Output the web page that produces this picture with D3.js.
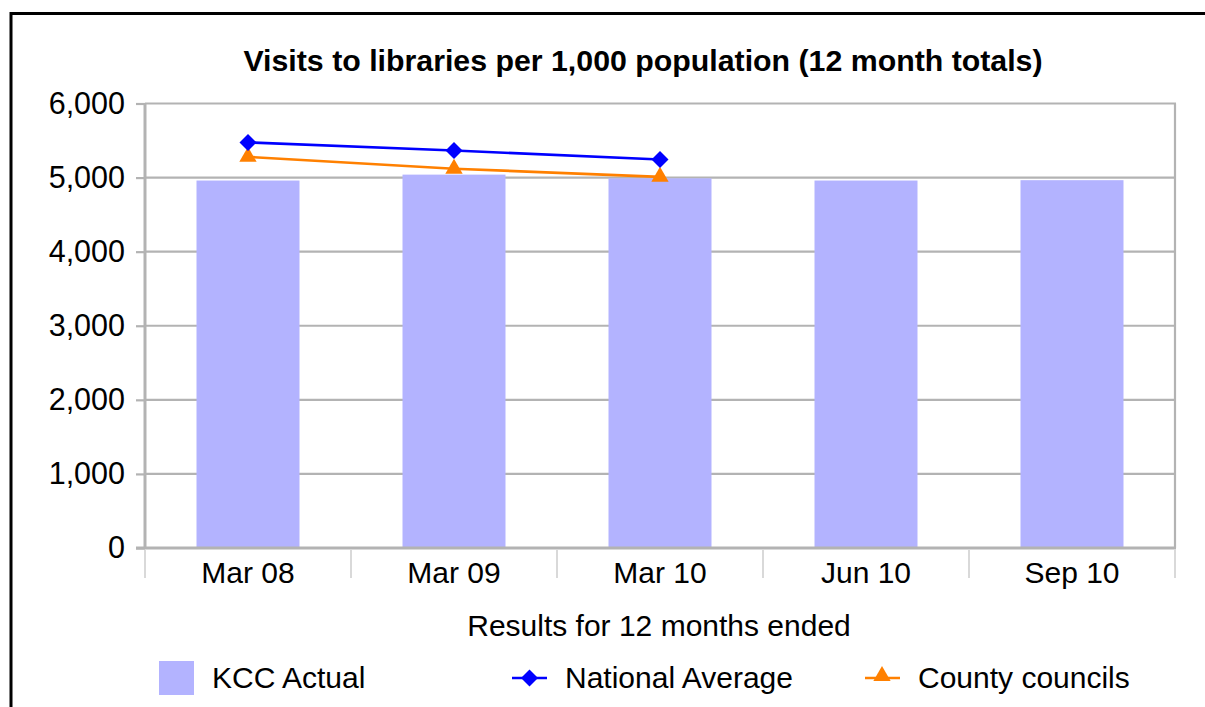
<!DOCTYPE html>
<html>
<head>
<meta charset="utf-8">
<script src="https://cdn.jsdelivr.net/npm/d3@7"></script>
<style>
html,body{margin:0;padding:0;background:#fff;}
svg{display:block;font-family:"Liberation Sans",Arial,sans-serif;}
</style>
</head>
<body>
<svg id="chart" width="1205" height="707"></svg>
<script>
const categories = ["Mar 08","Mar 09","Mar 10","Jun 10","Sep 10"];
const kccActual = [4960, 5040, 4990, 4960, 4965];
const nationalAverage = [5475, 5365, 5245, null, null];
const countyCouncils = [5280, 5120, 5010, null, null];
const yTicks = [0,1000,2000,3000,4000,5000,6000];
const title = "Visits to libraries per 1,000 population (12 month totals)";
const xTitle = "Results for 12 months ended";

(function(){
const svg = d3.select("#chart");
const pL = 145, pR = 1175, pT = 103.5, pB = 548;

// outer frame
svg.append("line").attr("x1",10).attr("x2",1205).attr("y1",13.5).attr("y2",13.5).attr("stroke","#000").attr("stroke-width",3);
svg.append("line").attr("x1",11).attr("x2",11).attr("y1",12).attr("y2",707).attr("stroke","#000").attr("stroke-width",3);

const x = d3.scaleBand().domain(categories).range([pL,pR]).paddingInner(0.5).paddingOuter(0.25);
const xb = d3.scaleBand().domain(categories).range([pL,pR]);
const y = d3.scaleLinear().domain([0,6000]).range([pB,pT]);

// gridlines
svg.append("g").selectAll("line").data(yTicks.filter(d=>d>0)).join("line")
  .attr("x1",pL).attr("x2",pR+1).attr("y1",d=>y(d)).attr("y2",d=>y(d))
  .attr("stroke","#b3b3b3").attr("stroke-width",2.2);
// right border
svg.append("line").attr("x1",pR).attr("x2",pR).attr("y1",pT).attr("y2",pB)
  .attr("stroke","#b3b3b3").attr("stroke-width",2.2);

// bars
svg.append("g").selectAll("rect").data(kccActual).join("rect")
  .attr("x",(d,i)=>x(categories[i])).attr("width",x.bandwidth())
  .attr("y",d=>y(d)).attr("height",d=>y(0)-y(d))
  .attr("fill","#b3b3ff");

// y axis
const yAxis = svg.append("g").attr("transform",`translate(${pL},0)`)
  .call(d3.axisLeft(y).tickValues(yTicks).tickFormat(d3.format(",")).tickSize(9).tickPadding(11));
yAxis.select(".domain").attr("stroke","#b3b3b3").attr("stroke-width",3).attr("d",`M0,${pT}V${pB+1}`);
yAxis.selectAll(".tick line").attr("stroke","#b3b3b3").attr("stroke-width",2.2);
yAxis.selectAll(".tick text").attr("font-size",30.5).attr("fill","#000").attr("font-family","Liberation Sans, Arial, sans-serif");

// x axis
const xAxis = svg.append("g").attr("transform",`translate(0,${pB})`)
  .call(d3.axisBottom(xb).tickSize(0).tickPadding(14));
xAxis.select(".domain").attr("stroke","#b3b3b3").attr("stroke-width",3).attr("d",`M${pL-9},0H${pR+1}`);
xAxis.selectAll(".tick text").attr("font-size",30).attr("fill","#000").attr("font-family","Liberation Sans, Arial, sans-serif").attr("dy","0.71em");
// category boundary ticks
const bounds = categories.map(c=>xb(c)).concat([pR]);
svg.append("g").selectAll("line").data(bounds).join("line")
  .attr("x1",d=>d).attr("x2",d=>d).attr("y1",pB+2).attr("y2",578)
  .attr("stroke","#cccccc").attr("stroke-width",1.5);

// lines
const cx = c => x(c) + x.bandwidth()/2;
const lineGen = d3.line().defined(d=>d.v!=null).x(d=>cx(d.c)).y(d=>y(d.v));
const natData = categories.map((c,i)=>({c, v:nationalAverage[i]}));
const cntData = categories.map((c,i)=>({c, v:countyCouncils[i]}));

svg.append("path").datum(cntData).attr("d",lineGen).attr("fill","none").attr("stroke","#ff8000").attr("stroke-width",2.6);
svg.append("path").datum(natData).attr("d",lineGen).attr("fill","none").attr("stroke","#0000ff").attr("stroke-width",2.6);

const tri = d3.symbol().type(d3.symbolTriangle).size(130);
const dia = (s)=>`M0,${-s}L${s},0L0,${s}L${-s},0Z`;

svg.append("g").selectAll("path").data(cntData.filter(d=>d.v!=null)).join("path")
  .attr("transform",d=>`translate(${cx(d.c)},${y(d.v)})`).attr("d",tri).attr("fill","#ff8000");
svg.append("g").selectAll("path").data(natData.filter(d=>d.v!=null)).join("path")
  .attr("transform",d=>`translate(${cx(d.c)},${y(d.v)})`).attr("d",dia(8.5)).attr("fill","#0000ff");

// title
svg.append("text").attr("x",643).attr("y",71).attr("text-anchor","middle")
  .attr("font-size",30.3).attr("font-weight","bold").text(title);
// x title
svg.append("text").attr("x",659).attr("y",636).attr("text-anchor","middle")
  .attr("font-size",30).text(xTitle);

// legend
const lg = svg.append("g");
lg.append("rect").attr("x",159).attr("y",661).attr("width",35).attr("height",34).attr("fill","#b3b3ff");
lg.append("text").attr("x",212).attr("y",688).attr("font-size",30).text("KCC Actual");
lg.append("line").attr("x1",512).attr("x2",547).attr("y1",678).attr("y2",678).attr("stroke","#0000ff").attr("stroke-width",2.6);
lg.append("path").attr("transform","translate(529.5,678)").attr("d",dia(8.5)).attr("fill","#0000ff");
lg.append("text").attr("x",565).attr("y",688).attr("font-size",30).text("National Average");
lg.append("line").attr("x1",865).attr("x2",900).attr("y1",678).attr("y2",678).attr("stroke","#ff8000").attr("stroke-width",2.6);
lg.append("path").attr("transform","translate(882,676)").attr("d",tri).attr("fill","#ff8000");
lg.append("text").attr("x",918).attr("y",688).attr("font-size",30).text("County councils");
})();
</script>
</body>
</html>
